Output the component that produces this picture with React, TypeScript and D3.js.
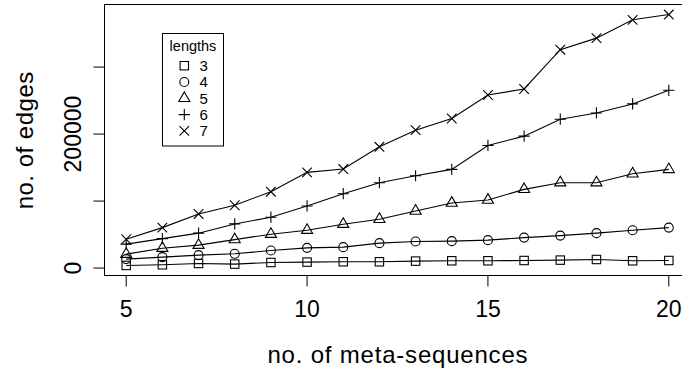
import React, { useRef, useEffect } from 'react';
import * as d3 from 'd3';

// number of meta-sequences on the x axis
const metaSeqs = [5, 6, 7, 8, 9, 10, 11, 12, 13, 14, 15, 16, 17, 18, 19, 20];

// edges per length
const len3 = [3900, 4900, 6850, 5950, 8300, 8900, 9400, 9400, 10400, 10900, 10900, 11300, 11900, 12800, 10900, 11300];
const len4 = [13400, 16400, 19300, 21300, 26200, 30200, 31250, 37200, 39600, 40200, 41700, 45500, 48500, 52100, 56500, 60400];
const len5 = [20800, 29700, 34200, 42500, 50600, 56500, 65500, 72900, 85200, 97100, 101600, 117500, 127400, 127400, 140800, 147300];
const len6 = [35700, 44000, 52100, 65900, 75900, 92700, 111000, 127400, 137800, 147300, 183000, 196900, 222200, 231500, 245000, 265300];
const len7 = [43000, 60400, 80800, 93750, 114000, 142850, 147800, 181000, 205800, 223200, 258300, 267300, 325900, 343200, 370500, 378400];

const lengthNames = ['3', '4', '5', '6', '7'];
const shapes = ['square', 'circle', 'triangle', 'plus', 'cross'];

const xTicks = [5, 10, 15, 20];
const yTicks = [0, 100000, 200000, 300000];
const yTickLabels = ['0', '', '200000', ''];

const FONT = '"Liberation Sans", Arial, Helvetica, sans-serif';

const drawSymbol = (g, shape, x, y) => {
  const s = g.append('g')
    .attr('fill', 'none')
    .attr('stroke', '#000')
    .attr('stroke-width', 1.1);
  if (shape === 'square') {
    s.append('rect').attr('x', x - 4.2).attr('y', y - 4.2).attr('width', 8.4).attr('height', 8.4);
  } else if (shape === 'circle') {
    s.append('circle').attr('cx', x).attr('cy', y).attr('r', 4.5);
  } else if (shape === 'triangle') {
    const r = 6.4;
    const w = r * Math.sqrt(3) / 2;
    s.append('path').attr('d', `M${x},${y - r}L${x + w},${y + r / 2}L${x - w},${y + r / 2}Z`);
  } else if (shape === 'plus') {
    s.append('path').attr('d', `M${x - 5.6},${y}H${x + 5.6}M${x},${y - 5.6}V${y + 5.6}`);
  } else {
    s.append('path').attr('d', `M${x - 4.8},${y - 4.8}L${x + 4.8},${y + 4.8}M${x - 4.8},${y + 4.8}L${x + 4.8},${y - 4.8}`);
  }
};

const EdgesChart = () => {
  const ref = useRef(null);

  useEffect(() => {
    const series = [len3, len4, len5, len6, len7];
    const left = 104.5, right = 690.5, top = 4.5, bottom = 275.5;

    // R style 4% padding of the data range
    const xExt = d3.extent(metaSeqs);
    const xPad = (xExt[1] - xExt[0]) * 0.04;
    const all = series.flat();
    const yExt = d3.extent(all);
    const yPad = (yExt[1] - yExt[0]) * 0.04;

    const x = d3.scaleLinear().domain([xExt[0] - xPad, xExt[1] + xPad]).range([left, right]);
    const y = d3.scaleLinear().domain([yExt[0] - yPad, yExt[1] + yPad]).range([bottom, top]);

    const svg = d3.select(ref.current);
    svg.selectAll('*').remove();

    svg.append('rect')
      .attr('x', left).attr('y', top)
      .attr('width', right - left).attr('height', bottom - top)
      .attr('fill', 'none').attr('stroke', '#000').attr('stroke-width', 1);

    // x axis ticks + labels
    const xa = svg.append('g');
    xa.selectAll('line').data(xTicks).join('line')
      .attr('x1', d => x(d)).attr('x2', d => x(d))
      .attr('y1', bottom).attr('y2', bottom + 11)
      .attr('stroke', '#000');
    xa.selectAll('text').data(xTicks).join('text')
      .attr('x', d => x(d)).attr('y', 317)
      .attr('text-anchor', 'middle')
      .attr('font-family', FONT).attr('font-size', 23)
      .text(d => d);

    // y axis ticks + labels (rotated like R)
    const ya = svg.append('g');
    ya.selectAll('line').data(yTicks).join('line')
      .attr('x1', left - 11).attr('x2', left)
      .attr('y1', d => y(d)).attr('y2', d => y(d))
      .attr('stroke', '#000');
    ya.selectAll('text').data(yTicks).join('text')
      .attr('transform', d => `translate(81,${y(d)}) rotate(-90)`)
      .attr('text-anchor', 'middle')
      .attr('font-family', FONT).attr('font-size', 23)
      .text((d, i) => yTickLabels[i]);

    svg.append('text')
      .attr('x', (left + right) / 2 + 0.4).attr('y', 363)
      .attr('text-anchor', 'middle')
      .attr('font-family', FONT).attr('font-size', 24)
      .attr('letter-spacing', 0.8)
      .text('no. of meta-sequences');

    svg.append('text')
      .attr('transform', `translate(33,${(top + bottom) / 2 + 0.3}) rotate(-90)`)
      .attr('text-anchor', 'middle')
      .attr('font-family', FONT).attr('font-size', 24)
      .attr('letter-spacing', 0.5)
      .text('no. of edges');

    const line = d3.line().x((d, i) => x(metaSeqs[i])).y(d => y(d));
    const plot = svg.append('g');
    series.forEach((vals, si) => {
      plot.append('path')
        .attr('d', line(vals))
        .attr('fill', 'none').attr('stroke', '#000').attr('stroke-width', 1.1);
      vals.forEach((v, i) => drawSymbol(plot, shapes[si], x(metaSeqs[i]), y(v)));
    });

    // legend
    const lg = svg.append('g');
    lg.append('rect')
      .attr('x', 162.5).attr('y', 33.5).attr('width', 61).attr('height', 112.5)
      .attr('fill', '#fff').attr('stroke', '#000');
    lg.append('text')
      .attr('x', 193).attr('y', 50.5)
      .attr('text-anchor', 'middle')
      .attr('font-family', FONT).attr('font-size', 14.5)
      .text('lengths');
    lengthNames.forEach((name, i) => {
      const cy = 65.7 + i * 16.3;
      drawSymbol(lg, shapes[i], 184.3, cy);
      lg.append('text')
        .attr('x', 199.5).attr('y', cy + 5.4)
        .attr('font-family', FONT).attr('font-size', 15)
        .text(name);
    });
  }, []);

  return (
    <svg ref={ref} width={682} height={372}
      style={{ position: 'absolute', left: 0, top: 0, background: '#fff' }} />
  );
};

export default function App() {
  return <EdgesChart />;
}
